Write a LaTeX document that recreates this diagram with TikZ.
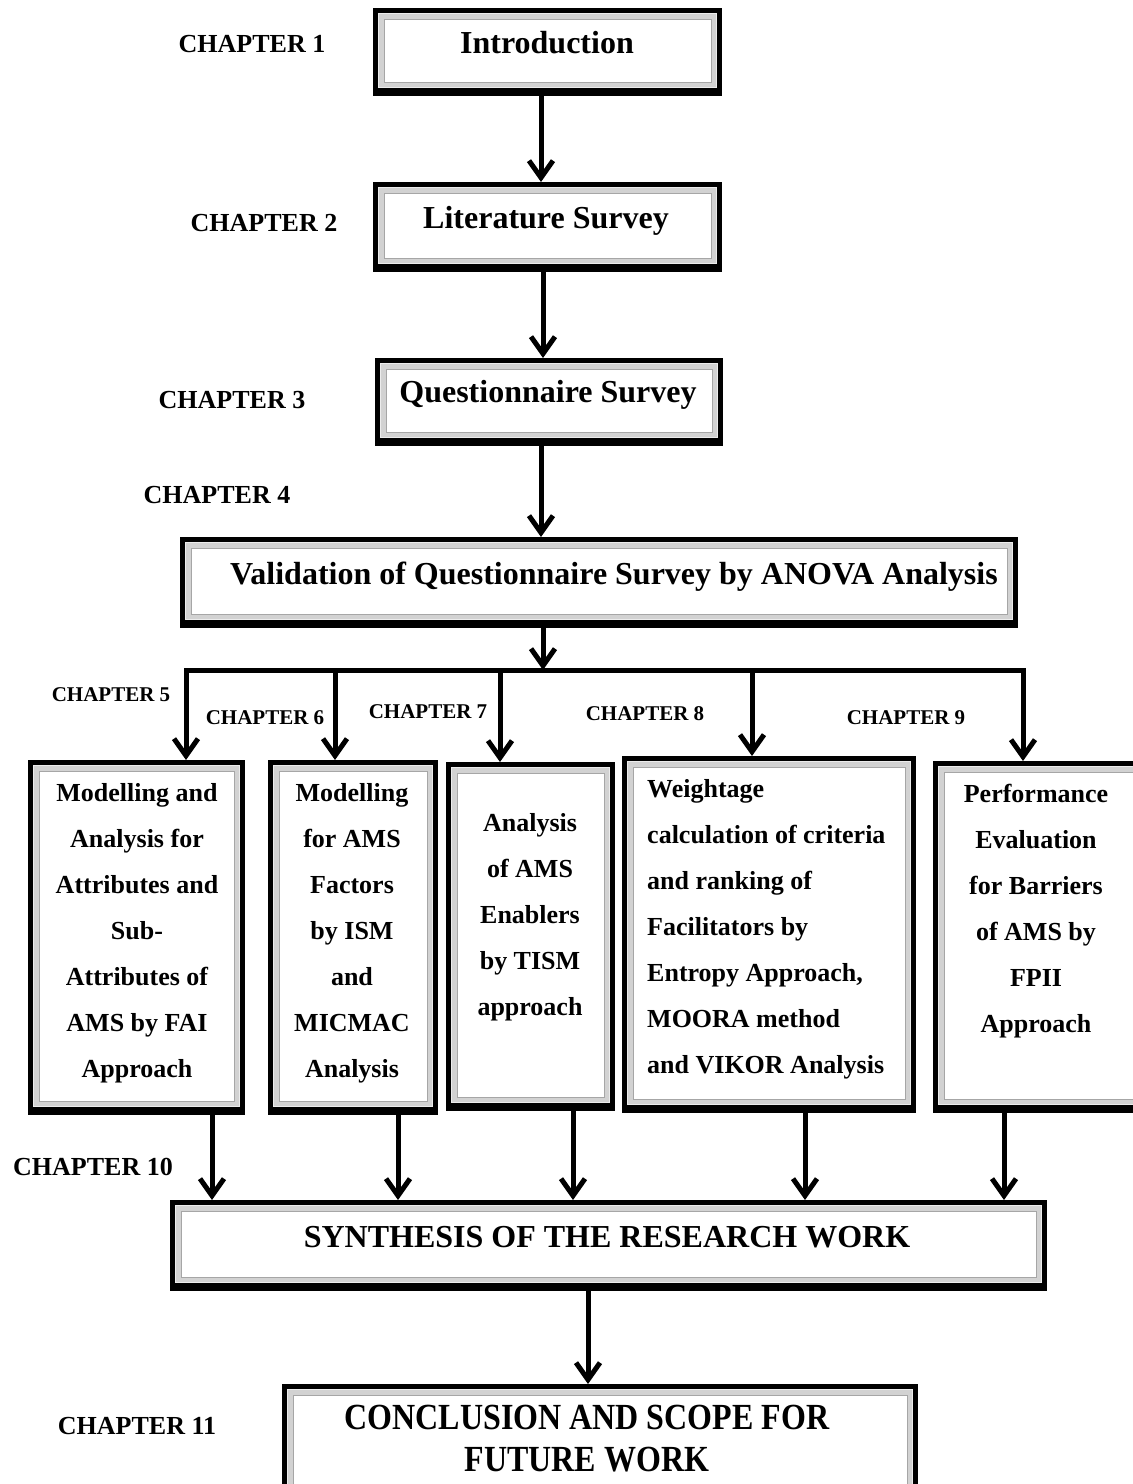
\documentclass[tikz,border=0pt]{standalone}
\usepackage{fontspec}
\setmainfont{Liberation Serif}
\usetikzlibrary{arrows.meta}

\begin{document}
\begin{tikzpicture}[x=1pt,y=1pt,
  framebox/.style={draw=black, line width=5pt, fill=white, inner sep=0pt,
    preaction={draw=black, line width=5pt, transform canvas={yshift=-2.5pt}},
    path picture={
      \draw[gray!35, line width=6pt]
        ([shift={(5.5pt,-5.5pt)}]path picture bounding box.north west) rectangle
        ([shift={(-5.5pt,5.5pt)}]path picture bounding box.south east);
      \draw[gray!70, line width=1pt]
        ([shift={(8.5pt,-8.5pt)}]path picture bounding box.north west) rectangle
        ([shift={(-8.5pt,8.5pt)}]path picture bounding box.south east);
      \draw[gray!15, line width=1pt]
        ([shift={(3pt,-3pt)}]path picture bounding box.north west) rectangle
        ([shift={(-3pt,3pt)}]path picture bounding box.south east);
    }},
  title/.style={font=\bfseries\fontsize{32}{42}\selectfont, inner sep=0pt, anchor=base},
  body/.style={font=\bfseries\fontsize{26}{46}\selectfont, inner sep=0pt, anchor=north, align=center},
  chap/.style={font=\bfseries\fontsize{26}{30}\selectfont, inner sep=0pt, anchor=base},
  chapsmall/.style={font=\bfseries\fontsize{21}{25}\selectfont, inner sep=0pt, anchor=base},
  link/.style={line width=5pt},
  arr/.style={line width=5pt, -{Straight Barb[length=17pt,width=24pt]}}
]
\useasboundingbox (0,0) rectangle (1133,-1484);

% ---- boxes ----
\node[framebox, minimum width=344, minimum height=80] (intro) at (547.5,-50.5) {};
\node[framebox, minimum width=344, minimum height=82] (lit) at (547.5,-225.5) {};
\node[framebox, minimum width=343, minimum height=80] (quest) at (549,-400.5) {};
\node[framebox, minimum width=833, minimum height=83] (valid) at (599,-581) {};
\node[framebox, minimum width=212, minimum height=347] (b5) at (136.5,-936) {};
\node[framebox, minimum width=165, minimum height=347] (b6) at (353,-936) {};
\node[framebox, minimum width=164, minimum height=341] (b7) at (530.5,-935) {};
\node[framebox, minimum width=289, minimum height=349] (b8) at (769,-933) {};
\node[framebox, minimum width=212, minimum height=344] (b9) at (1041.5,-935.5) {};
\node[framebox, minimum width=872, minimum height=83] (synth) at (608.5,-1244) {};
\node[framebox, minimum width=631, minimum height=111] (concl) at (600,-1442) {};

% ---- box texts ----
\node[title] (introtxt) at (547,-53) {Introduction};
\node[title] (littxt) at (546,-228) {Literature Survey};
\node[title] (questtxt) at (548,-402) {Questionnaire Survey};
\node[title] (validtxt) at (614,-584) {Validation of Questionnaire Survey by ANOVA Analysis};
\node[title] (synthtxt) at (607,-1247) {SYNTHESIS OF THE RESEARCH WORK};
\node[title, anchor=north, align=center, font=\bfseries\fontsize{32}{42}\selectfont]
  (concltxt) at (587,-1405) {\scalebox{1}[1.15]{CONCLUSION AND SCOPE FOR}\\\scalebox{1}[1.15]{FUTURE WORK}};

\node[body] (b5txt) at (137,-783) {Modelling and\\Analysis for\\Attributes and\\Sub-\\Attributes of\\AMS by FAI\\Approach};
\node[body] (b6txt) at (352,-783) {Modelling\\for AMS\\Factors\\by ISM\\and\\MICMAC\\Analysis};
\node[body] (b7txt) at (530,-813) {Analysis\\of AMS\\Enablers\\by TISM\\approach};
\node[body, anchor=north west, align=left] (b8txt) at (647,-779) {Weightage\\calculation of criteria\\and ranking of\\Facilitators by\\Entropy Approach,\\MOORA method\\and VIKOR Analysis};
\node[body] (b9txt) at (1036,-784) {Performance\\Evaluation\\for Barriers\\of AMS by\\FPII\\Approach};

% ---- chapter labels ----
\node[chap] (ch1) at (252,-52.5) {CHAPTER 1};
\node[chap] (ch2) at (264,-231) {CHAPTER 2};
\node[chap] (ch3) at (232,-408) {CHAPTER 3};
\node[chap] (ch4) at (217,-503) {CHAPTER 4};
\node[chapsmall] (ch5) at (111,-701) {CHAPTER 5};
\node[chapsmall] (ch6) at (265,-724) {CHAPTER 6};
\node[chapsmall] (ch7) at (428,-718) {CHAPTER 7};
\node[chapsmall] (ch8) at (645,-720) {CHAPTER 8};
\node[chapsmall] (ch9) at (906,-724) {CHAPTER 9};
\node[chap] (ch10) at (93,-1175.5) {CHAPTER 10};
\node[chap] (ch11) at (137,-1434) {CHAPTER 11};

% ---- connector columns ----
\coordinate (c1) at (541,0);
\coordinate (c2) at (543,0);
\coordinate (c3) at (541,0);
\coordinate (bus) at (543,-670);
\coordinate (d5) at (186,0);
\coordinate (d6) at (335,0);
\coordinate (d7) at (500,0);
\coordinate (d8) at (752,0);
\coordinate (d9) at (1023,0);
\coordinate (u5) at (212,0);
\coordinate (u6) at (398,0);
\coordinate (u7) at (573,0);
\coordinate (u8) at (805,0);
\coordinate (u9) at (1004,0);
\coordinate (c4) at (588,0);

% ---- connectors ----
\draw[arr] (intro.south -| c1) -- (lit.north -| c1);
\draw[arr] (lit.south -| c2) -- (quest.north -| c2);
\draw[arr] (quest.south -| c3) -- (valid.north -| c3);
\draw[arr] (valid.south -| bus) -- (bus);
\draw[link, line cap=rect] (d5 |- bus) -- (d9 |- bus);
\draw[arr] (d5 |- bus) -- (b5.north -| d5);
\draw[arr] (d6 |- bus) -- (b6.north -| d6);
\draw[arr] (d7 |- bus) -- (b7.north -| d7);
\draw[arr] (d8 |- bus) -- (b8.north -| d8);
\draw[arr] (d9 |- bus) -- (b9.north -| d9);
\draw[arr] (b5.south -| u5) -- (synth.north -| u5);
\draw[arr] (b6.south -| u6) -- (synth.north -| u6);
\draw[arr] (b7.south -| u7) -- (synth.north -| u7);
\draw[arr] (b8.south -| u8) -- (synth.north -| u8);
\draw[arr] (b9.south -| u9) -- (synth.north -| u9);
\draw[arr] (synth.south -| c4) -- (concl.north -| c4);
\end{tikzpicture}
\end{document}
